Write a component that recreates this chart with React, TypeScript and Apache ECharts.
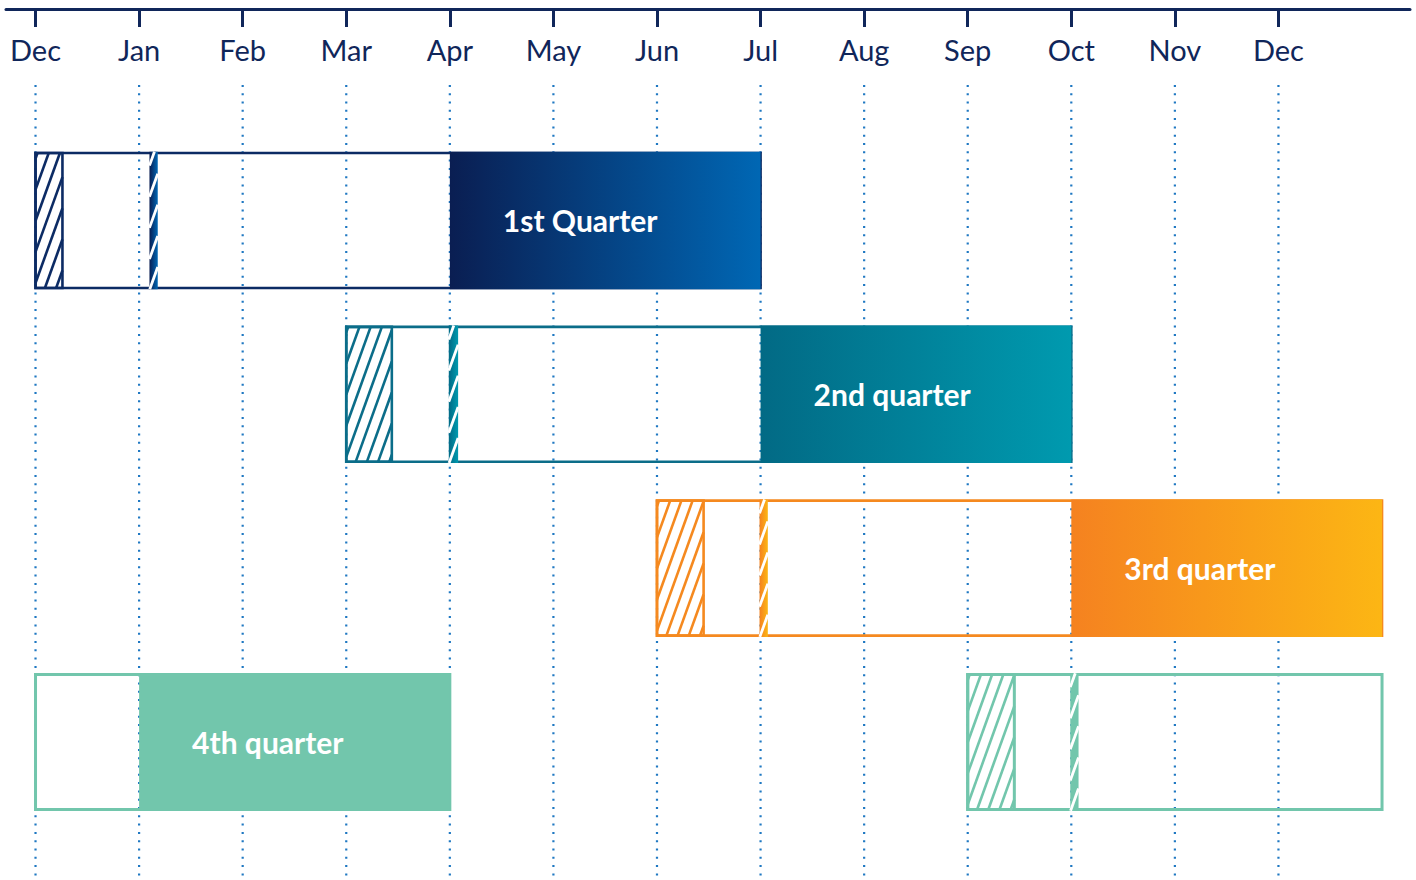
import React, { useEffect, useRef } from "react";
import * as echarts from "echarts";

// ---- data ----
const monthLabels = ["Dec", "Jan", "Feb", "Mar", "Apr", "May", "Jun", "Jul", "Aug", "Sep", "Oct", "Nov", "Dec"];
const monthIndex = monthLabels.map((_, i) => i);
const quarterLabels = ["1st Quarter", "2nd quarter", "3rd quarter", "4th quarter"];

// [start month, end month, row]
const frames = [
  [0, 7, 0],
  [3, 10, 1],
  [6, 13, 2],
  [0, 4, 3],
  [9, 13, 3],
];
const hatches = [
  [0, 0.26, 0],
  [3, 3.44, 1],
  [6, 6.45, 2],
  [9, 9.45, 3],
];
const stripes = [
  [1.1, 1.18, 0],
  [3.99, 4.08, 1],
  [6.99, 7.07, 2],
  [9.99, 10.07, 3],
];
// [start, end, row, labelIndex]
const fills = [
  [4, 7, 0, 0],
  [7, 10, 1, 1],
  [10, 13, 2, 2],
  [1, 4, 3, 3],
];

// ---- style ----
const rowStroke = ["#0c2b64", "#0b6d89", "#f5891f", "#72c6ac"];
const rowGradStart = ["#0a1e52", "#026a85", "#f58220", "#72c6ac"];
const rowGradEnd = ["#0067b4", "#009aaf", "#fcb614", "#72c6ac"];
const NAVY = "#10265a";
const GRID_DOT = "#1f78c2";
const Y_MIN = -1.2167;
const Y_MAX = 3.794;
const BAR_H = 0.7766;
const FONT = "Lato, 'Open Sans', sans-serif";

function grad(row: number) {
  if (rowGradStart[row] === rowGradEnd[row]) return rowGradStart[row];
  return new echarts.graphic.LinearGradient(0, 0, 1, 0, [
    { offset: 0, color: rowGradStart[row] },
    { offset: 1, color: rowGradEnd[row] },
  ]);
}

function hatchLines(x0: number, y0: number, w: number, h: number, k: number, s: number, phase: number) {
  const out: any[] = [];
  const yb = y0 + h;
  for (let c = x0 - k * h - s + phase; c < x0 + w; c += s) {
    const uMin = Math.max(0, (x0 - c) / k);
    const uMax = Math.min(h, (x0 + w - c) / k);
    if (uMax > uMin + 0.5) {
      out.push({ x1: c + k * uMin, y1: yb - uMin, x2: c + k * uMax, y2: yb - uMax });
    }
  }
  return out;
}

function rectFor(api: any, hExtra: number) {
  const s = api.coord([api.value(0), api.value(2)]);
  const e = api.coord([api.value(1), api.value(2)]);
  const unit = api.size([0, 1])[1];
  const h = unit * BAR_H + hExtra;
  return { x: s[0], y: s[1] - h / 2, width: e[0] - s[0], height: h };
}

export default function App() {
  const ref = useRef<HTMLDivElement>(null);

  useEffect(() => {
    if (!ref.current) return;
    const chart = echarts.init(ref.current, null, { renderer: "svg" });

    const option: any = {
      animation: false,
      backgroundColor: "#ffffff",
      grid: { left: 6, right: 6, top: 9, bottom: 0, containLabel: false, outerBoundsMode: "none" },
      xAxis: {
        type: "value",
        position: "top",
        min: -0.285,
        max: 13.27,
        axisLine: { show: true, onZero: false, lineStyle: { color: NAVY, width: 3 } },
        axisTick: {
          show: true,
          inside: true,
          length: 18,
          customValues: monthIndex,
          lineStyle: { color: NAVY, width: 3 },
        },
        axisLabel: {
          show: true,
          inside: true,
          margin: 26,
          customValues: monthIndex,
          formatter: (v: number) => monthLabels[Math.round(v)],
          color: NAVY,
          fontSize: 29,
          fontFamily: FONT,
        },
        splitLine: { show: false },
      },
      yAxis: {
        type: "value",
        inverse: true,
        min: Y_MIN,
        max: Y_MAX,
        show: false,
      },
      series: [
        {
          type: "custom",
          name: "grid",
          silent: true,
          data: monthIndex.map((m) => [m]),
          encode: { x: 0 },
          z: 1,
          renderItem: (params: any, api: any) => {
            const top = api.coord([api.value(0), -0.78]);
            const bot = api.coord([api.value(0), Y_MAX]);
            return {
              type: "line",
              shape: { x1: top[0], y1: top[1], x2: bot[0], y2: bot[1] },
              style: { stroke: GRID_DOT, lineWidth: 2.2, lineDash: [2, 6.3] },
            };
          },
        },
        {
          type: "custom",
          name: "frames",
          silent: true,
          data: frames,
          encode: { x: [0, 1], y: 2 },
          z: 2,
          renderItem: (params: any, api: any) => {
            const row = api.value(2);
            const r = rectFor(api, 0);
            return {
              type: "rect",
              shape: r,
              style: { fill: "none", stroke: rowStroke[row], lineWidth: row === 3 ? 3 : 2.6 },
            };
          },
        },
        {
          type: "custom",
          name: "hatches",
          silent: true,
          data: hatches,
          encode: { x: [0, 1], y: 2 },
          z: 3,
          renderItem: (params: any, api: any) => {
            const row = api.value(2);
            const r = rectFor(api, 0);
            const lines = hatchLines(r.x, r.y, r.width, r.height, 0.36, 11.2, 2);
            const children: any[] = lines.map((l) => ({
              type: "line",
              shape: l,
              style: { stroke: rowStroke[row], lineWidth: 2.6 },
            }));
            children.push({
              type: "rect",
              shape: r,
              style: { fill: "none", stroke: rowStroke[row], lineWidth: row === 3 ? 3 : 2.6 },
            });
            return { type: "group", children };
          },
        },
        {
          type: "custom",
          name: "fills",
          silent: true,
          data: fills,
          encode: { x: [0, 1], y: 2 },
          z: 4,
          renderItem: (params: any, api: any) => {
            const row = api.value(2);
            const r = rectFor(api, 2.5);
            return {
              type: "group",
              children: [
                { type: "rect", shape: r, style: { fill: grad(row) } },
                {
                  type: "text",
                  x: r.x + 53,
                  y: r.y + r.height / 2,
                  style: {
                    text: quarterLabels[api.value(3)],
                    fill: "#ffffff",
                    font: `bold 30px ${FONT}`,
                    align: "left",
                    verticalAlign: "middle",
                  },
                },
              ],
            };
          },
        },
        {
          type: "custom",
          name: "stripes",
          silent: true,
          data: stripes,
          encode: { x: [0, 1], y: 2 },
          z: 5,
          renderItem: (params: any, api: any) => {
            const row = api.value(2);
            const r = rectFor(api, 2.5);
            const lines = hatchLines(r.x, r.y, r.width, r.height, 0.36, 11.2, 5);
            const children: any[] = [{ type: "rect", shape: r, style: { fill: grad(row) } }];
            lines.forEach((l) =>
              children.push({ type: "line", shape: l, style: { stroke: "#ffffff", lineWidth: 2.8 } })
            );
            return { type: "group", children };
          },
        },
      ],
    };

    chart.setOption(option);
    return () => chart.dispose();
  }, []);

  return (
    <div
      ref={ref}
      style={{ position: "fixed", left: 0, top: 0, width: 1416, height: 880, background: "#fff" }}
    />
  );
}
